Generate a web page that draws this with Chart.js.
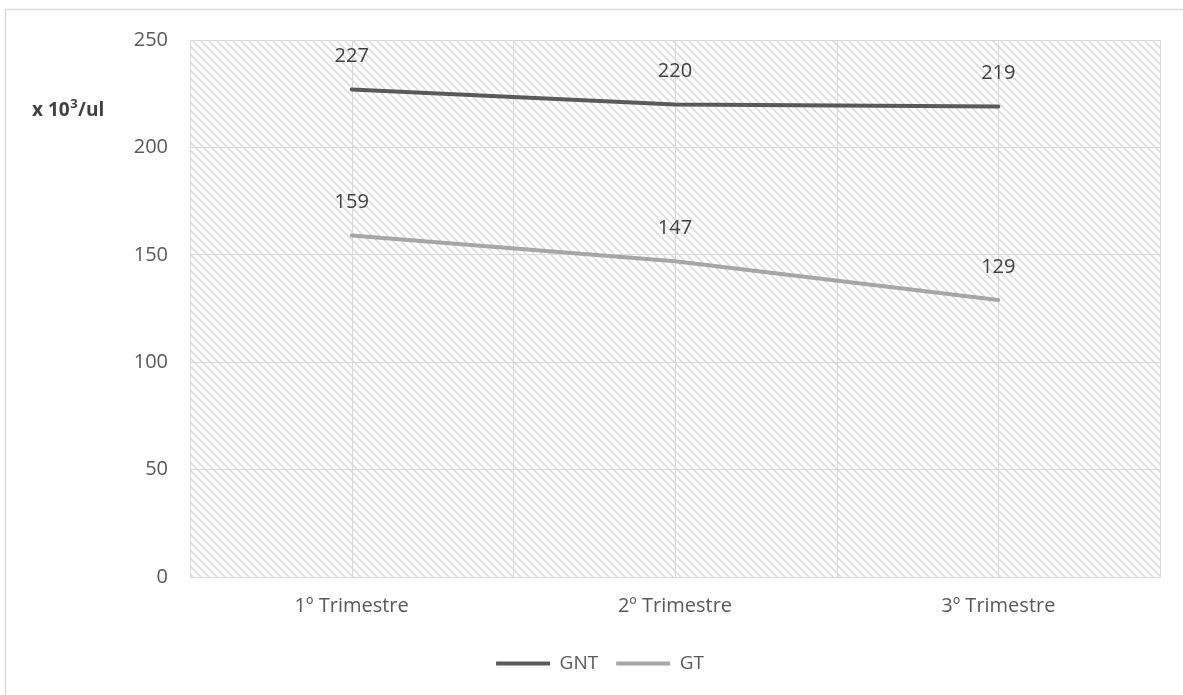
<!DOCTYPE html>
<html>
<head>
<meta charset="utf-8">
<script src="https://cdn.jsdelivr.net/npm/chart.js@4/dist/chart.umd.min.js"></script>
<style>
  html, body { margin: 0; padding: 0; background: #ffffff; }
  #wrap { position: relative; width: 1183px; height: 695px; }
</style>
</head>
<body>
<div id="wrap"><canvas id="chart" width="1183" height="695"></canvas></div>
<script>
// Platelet counts per trimester (x 10^3/ul)
const categories = ['1º Trimestre', '2º Trimestre', '3º Trimestre'];
const gntValues = [227, 220, 219];
const gtValues = [159, 147, 129];
const seriesNames = ['GNT', 'GT'];
const yTicks = [0, 50, 100, 150, 200, 250];

const FONT = '"Open Sans", "Noto Sans", sans-serif';
const GRID = '#d9d9d9';

// Diagonal hatch used as the plot-area fill
function makeHatch() {
  const c = document.createElement('canvas');
  c.width = 8; c.height = 8;
  const g = c.getContext('2d');
  g.fillStyle = '#ffffff';
  g.fillRect(0, 0, 8, 8);
  g.strokeStyle = '#dcdcdc';
  g.lineWidth = 1.6;
  g.beginPath();
  g.moveTo(-2, -2); g.lineTo(10, 10);
  g.moveTo(-10, -2); g.lineTo(2, 10);
  g.moveTo(6, -2); g.lineTo(18, 10);
  g.stroke();
  return c;
}

const backdrop = {
  id: 'backdrop',
  beforeDraw(chart) {
    const { ctx, chartArea: a } = chart;
    ctx.save();
    // outer frame
    ctx.strokeStyle = GRID;
    ctx.lineWidth = 1.5;
    ctx.beginPath();
    ctx.moveTo(5.5, chart.height + 5);
    ctx.lineTo(5.5, 9.5);
    ctx.lineTo(chart.width + 5, 9.5);
    ctx.stroke();
    // hatched plot area
    ctx.fillStyle = ctx.createPattern(makeHatch(), 'repeat');
    ctx.fillRect(a.left, a.top, a.right - a.left, a.bottom - a.top);
    ctx.restore();
  },
  beforeDatasetsDraw(chart) {
    // vertical grid at category edges and centres
    const { ctx, chartArea: a } = chart;
    const xs = chart.scales.x;
    const half = (xs.getPixelForValue(1) - xs.getPixelForValue(0)) / 2;
    ctx.save();
    ctx.strokeStyle = GRID;
    ctx.lineWidth = 1;
    ctx.beginPath();
    for (let i = 0; i < categories.length; i++) {
      const cx = xs.getPixelForValue(i);
      [cx - half, cx, cx + half].forEach(px => {
        const p = Math.round(px) + 0.5;
        ctx.moveTo(p, a.top); ctx.lineTo(p, a.bottom);
      });
    }
    ctx.stroke();
    ctx.strokeRect(Math.round(a.left) + 0.5, Math.round(a.top) + 0.5,
      Math.round(a.right - a.left), Math.round(a.bottom - a.top));
    ctx.restore();
  },
  afterDatasetsDraw(chart) {
    const { ctx } = chart;
    ctx.save();
    // value labels above each point
    ctx.font = '20px ' + FONT;
    ctx.fillStyle = '#404040';
    ctx.textAlign = 'center';
    ctx.textBaseline = 'middle';
    chart.data.datasets.forEach((ds, di) => {
      chart.getDatasetMeta(di).data.forEach((pt, i) => {
        ctx.fillText(String(ds.data[i]), pt.x, pt.y - 33);
      });
    });
    // unit label of the value axis
    ctx.fillStyle = '#404040';
    ctx.textAlign = 'left';
    ctx.textBaseline = 'alphabetic';
    ctx.font = 'bold 19px ' + FONT;
    let x = 32;
    const y = 116;
    ctx.fillText('x 10', x, y);
    x += ctx.measureText('x 10').width;
    ctx.font = 'bold 13px ' + FONT;
    ctx.fillText('3', x + 0.5, y - 8);
    x += ctx.measureText('3').width + 1;
    ctx.font = 'bold 19px ' + FONT;
    ctx.fillText('/ul', x, y);
    ctx.restore();
  }
};

new Chart(document.getElementById('chart'), {
  type: 'line',
  data: {
    labels: categories,
    datasets: [
      { label: seriesNames[0], data: gntValues, borderColor: '#595959', backgroundColor: '#595959',
        borderWidth: 4, borderCapStyle: 'round', pointRadius: 0, tension: 0 },
      { label: seriesNames[1], data: gtValues, borderColor: '#a6a6a6', backgroundColor: '#a6a6a6',
        borderWidth: 4, borderCapStyle: 'round', pointRadius: 0, tension: 0 }
    ]
  },
  options: {
    responsive: false,
    animation: false,
    layout: { padding: { left: 40, right: 23, top: 40, bottom: 12 } },
    plugins: {
      tooltip: { enabled: false },
      legend: {
        position: 'bottom',
        labels: {
          usePointStyle: true,
          pointStyle: 'line',
          pointStyleWidth: 54,
          boxHeight: 19,
          padding: 18,
          color: '#595959',
          font: { family: FONT, size: 19 }
        }
      }
    },
    scales: {
      x: {
        offset: true,
        grid: { display: false, drawTicks: false },
        border: { display: false },
        ticks: { color: '#595959', padding: 17, font: { family: FONT, size: 20 } },
        afterFit(s) { s.height = 59; }
      },
      y: {
        min: 0, max: 250,
        afterBuildTicks(s) { s.ticks = yTicks.map(v => ({ value: v })); },
        grid: { color: GRID, lineWidth: 1, drawTicks: false },
        border: { display: false },
        ticks: { color: '#595959', padding: 22, font: { family: FONT, size: 20 } },
        afterFit(s) { s.width = 150; }
      }
    }
  },
  plugins: [backdrop]
});
</script>
</body>
</html>
